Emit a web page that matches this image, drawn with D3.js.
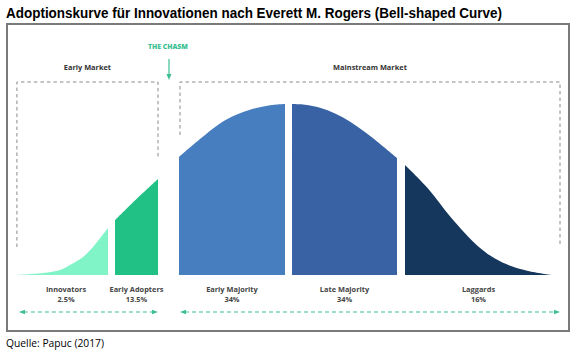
<!DOCTYPE html>
<html><head><meta charset="utf-8">
<script src="https://cdn.jsdelivr.net/npm/d3@7/dist/d3.min.js"></script>
<style>body{margin:0;background:#fff}svg{display:block}</style>
</head><body>
<script>
// ---- data ----
const title = "Adoptionskurve für Innovationen nach Everett M. Rogers (Bell-shaped Curve)";
const source = "Quelle: Papuc (2017)";
const categories = ["Innovators", "Early Adopters", "Early Majority", "Late Majority", "Laggards"];
const shares = ["2.5%", "13.5%", "34%", "34%", "16%"];
const markets = ["Early Market", "Mainstream Market"];
const chasmLabel = "THE CHASM";
// curve samples per segment (x: position 0-100, y: relative adoption density 0-100)
const innovatorsX = [0, 5.14, 8.26, 10.09, 12.48, 14.31, 17.06];
const innovatorsY = [0, 1.17, 2.92, 5.85, 10.53, 16.37, 27.49];
const earlyAdoptersX = [18.35, 22.20, 26.24];
const earlyAdoptersY = [32.16, 44.2, 56.14];
const earlyMajorityX = [30.09, 33.94, 37.61, 40.37, 43.67, 46.79, 49.54];
const earlyMajorityY = [69.01, 79.5, 88.6, 93.4, 97.2, 99.3, 100];
const lateMajorityX = [50.83, 53.21, 55.96, 58.72, 61.50, 64.20, 67.00, 70.09];
const lateMajorityY = [100, 99.6, 97.8, 94.4, 89.6, 83.6, 76.6, 68.42];
const laggardsX = [71.56, 75.78, 80.00, 84.95, 88.07, 91.01, 94.13, 98.53];
const laggardsY = [64.33, 50.6, 33.6, 16.8, 9.6, 5.2, 2.4, 0];

// ---- styles ----
const colors = ["#80f3c7", "#21c186", "#477ec0", "#3862a4", "#15375e"];
const green = "#3dbf95";

const segX = [innovatorsX, earlyAdoptersX, earlyMajorityX, lateMajorityX, laggardsX];
const segY = [innovatorsY, earlyAdoptersY, earlyMajorityY, lateMajorityY, laggardsY];
const segments = categories.map((c, i) => ({
  name: c, share: shares[i], color: colors[i],
  pts: segX[i].map((x, j) => ({x, y: segY[i][j]}))
}));

const W = 585, H = 354;
const svg = d3.select("body").append("svg").attr("width", W).attr("height", H);

const x = d3.scaleLinear().domain([0, 100]).range([15, 560]);
const y = d3.scaleLinear().domain([0, 100]).range([275, 104]);

// title
svg.append("text").attr("x", 6).attr("y", 18)
  .attr("font-family", "'Liberation Sans Narrow','Liberation Sans',Arial,sans-serif")
  .attr("font-weight", "bold").attr("font-size", 14.5).attr("fill", "#000")
  .attr("textLength", 496).attr("lengthAdjust", "spacingAndGlyphs")
  .text(title);

// frame
svg.append("rect").attr("x", 7).attr("y", 24).attr("width", 562).attr("height", 307)
  .attr("fill", "#fff").attr("stroke", "#7a7a7a").attr("stroke-width", 2);

// source
svg.append("text").attr("x", 6).attr("y", 347)
  .attr("font-family", "'Open Sans','Liberation Sans',sans-serif")
  .attr("font-size", 10.5).attr("fill", "#000")
  .attr("textLength", 98).attr("lengthAdjust", "spacingAndGlyphs")
  .text(source);

// areas
const area = d3.area().x(d => x(d.x)).y0(y(0)).y1(d => y(d.y)).curve(d3.curveCatmullRom.alpha(0.5));
svg.append("g").selectAll("path").data(segments).join("path")
  .attr("d", d => area(d.pts)).attr("fill", d => d.color);

// market boxes
const fam = "'Open Sans',Lato,sans-serif";
const earlyL = x(0.35), earlyR = x(earlyAdoptersX[earlyAdoptersX.length - 1]);
const mainL = x(earlyMajorityX[0]) + 1, mainR = x(100);
const topY = 82;
const dash = g => g.attr("fill", "none").attr("stroke", "#8a8a8a").attr("stroke-width", 1).attr("stroke-dasharray", "3.5,3");
svg.append("path").call(dash)
  .attr("d", `M${earlyL},247V${topY}H${earlyR}V157`);
svg.append("path").call(dash)
  .attr("d", `M${mainL},135V${topY}H${mainR}V247`);

svg.append("text").attr("x", (earlyL + earlyR) / 2).attr("y", 70).attr("text-anchor", "middle")
  .attr("font-family", fam).attr("font-weight", "bold").attr("font-size", 7.4).attr("fill", "#333")
  .text(markets[0]);
svg.append("text").attr("x", (mainL + mainR) / 2).attr("y", 70).attr("text-anchor", "middle")
  .attr("font-family", fam).attr("font-weight", "bold").attr("font-size", 7.4).attr("fill", "#333")
  .text(markets[1]);

// chasm
const chasmX = (earlyR + mainL) / 2;
svg.append("text").attr("x", chasmX - 1).attr("y", 49).attr("text-anchor", "middle")
  .attr("font-family", fam).attr("font-weight", "800").attr("font-size", 6.8).attr("fill", green)
  .text(chasmLabel);
svg.append("line").attr("x1", chasmX).attr("x2", chasmX).attr("y1", 59).attr("y2", 75)
  .attr("stroke", green).attr("stroke-width", 1.2);
svg.append("path").attr("d", `M${chasmX - 2.5},74L${chasmX + 2.5},74L${chasmX},80Z`).attr("fill", green);

// category labels
const labelPos = segments.map(s => (x(s.pts[0].x) + x(s.pts[s.pts.length - 1].x)) / 2);
labelPos[0] = 66;
const lg = svg.append("g").attr("font-family", fam).attr("font-weight", "bold")
  .attr("font-size", 7.4).attr("fill", "#444").attr("text-anchor", "middle");
segments.forEach((s, i) => {
  lg.append("text").attr("x", labelPos[i]).attr("y", 292).text(s.name);
  lg.append("text").attr("x", labelPos[i]).attr("y", 302).text(s.share);
});

// dashed arrows
const arrowY = 312;
const arr = (x1, x2) => {
  svg.append("line").attr("x1", x1 + 5).attr("x2", x2 - 5).attr("y1", arrowY).attr("y2", arrowY)
    .attr("stroke", green).attr("stroke-width", 1.2).attr("stroke-dasharray", "4,3");
  svg.append("path").attr("d", `M${x1},${arrowY}L${x1 + 6},${arrowY - 2.2}L${x1 + 6},${arrowY + 2.2}Z`).attr("fill", green);
  svg.append("path").attr("d", `M${x2},${arrowY}L${x2 - 6},${arrowY - 2.2}L${x2 - 6},${arrowY + 2.2}Z`).attr("fill", green);
};
arr(earlyL + 2, earlyR);
arr(mainL, mainR);
</script>
</body></html>
